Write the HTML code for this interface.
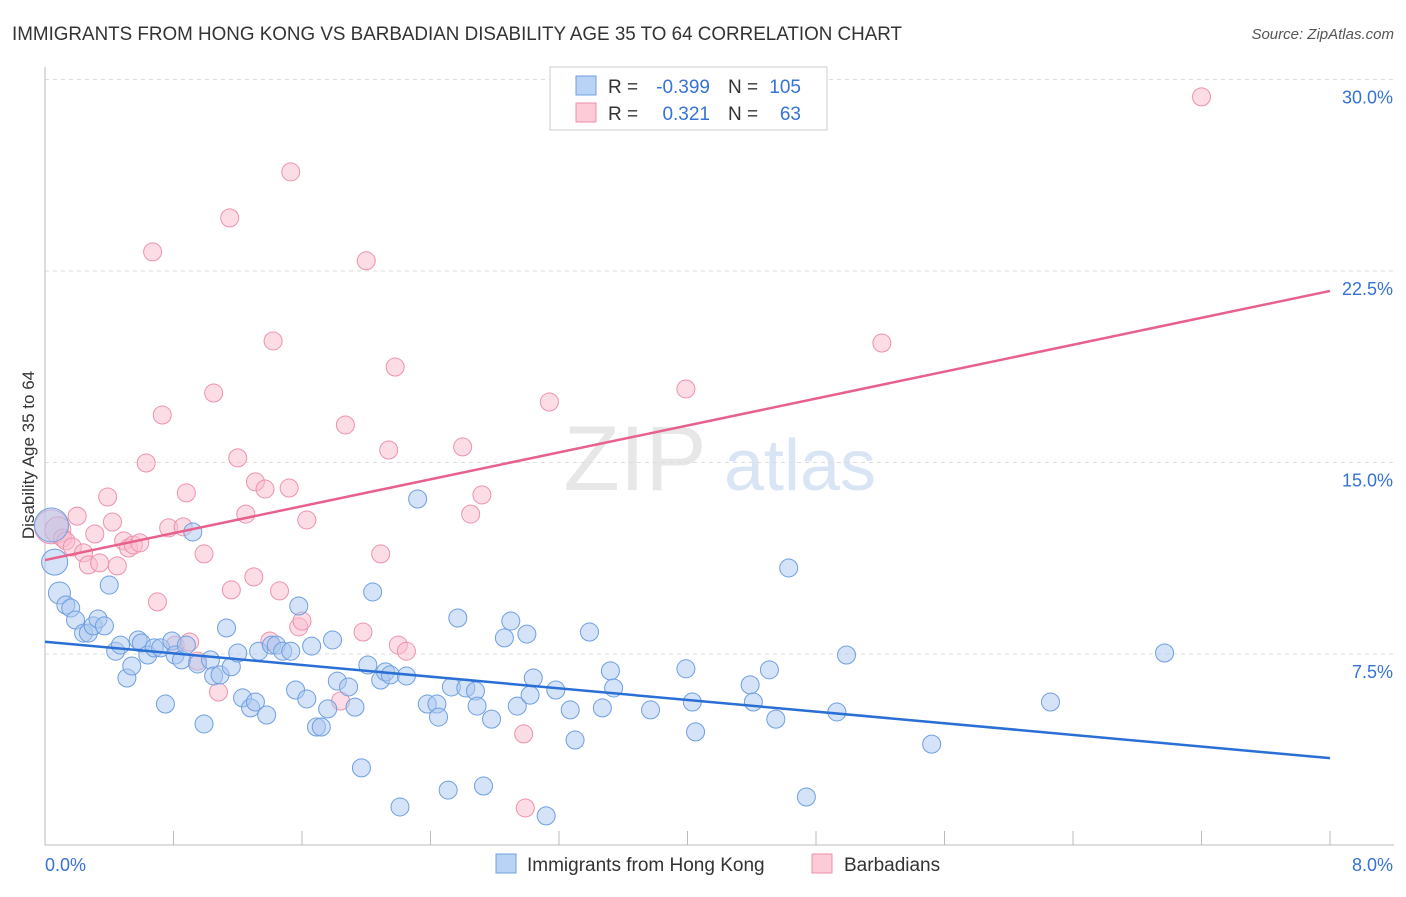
<!DOCTYPE html>
<html><head><meta charset="utf-8"><style>
body{margin:0;background:#fff;font-family:"Liberation Sans",sans-serif;}
svg text{font-family:"Liberation Sans",sans-serif;}
</style></head><body>
<svg id="chart" width="1406" height="892">
<text x="12" y="40" font-size="19" fill="#333" textLength="890" lengthAdjust="spacingAndGlyphs">IMMIGRANTS FROM HONG KONG VS BARBADIAN DISABILITY AGE 35 TO 64 CORRELATION CHART</text>
<text x="1394" y="39" font-size="15" fill="#555" text-anchor="end" font-style="italic">Source: ZipAtlas.com</text>
<text x="34" y="455" font-size="17" fill="#333" text-anchor="middle" transform="rotate(-90 34 455)">Disability Age 35 to 64</text>
<g><text x="635" y="490" font-size="92" fill="#ddd" text-anchor="middle" font-family="Liberation Serif" opacity="0.7">ZIP</text><text x="800" y="490" font-size="72" fill="#c9daf0" text-anchor="middle" opacity="0.7">atlas</text></g>
<g id="grid"></g><g id="axes"></g><g id="pts"></g><g id="lines"></g>
<g>
<rect x="550" y="67" width="277" height="63" fill="#fff" stroke="#ccc"/>
<rect x="576" y="76" width="20" height="19" fill="#b9d3f5" stroke="#6f9fe0"/>
<rect x="576" y="103" width="20" height="19" fill="#fbcbd8" stroke="#ee92ac"/>
<text x="608" y="93" font-size="19" fill="#333">R =</text>
<text x="710" y="93" font-size="19" fill="#3673d4" text-anchor="end">-0.399</text>
<text x="728" y="93" font-size="19" fill="#333">N =</text>
<text x="801" y="93" font-size="19" fill="#3673d4" text-anchor="end">105</text>
<text x="608" y="120" font-size="19" fill="#333">R =</text>
<text x="710" y="120" font-size="19" fill="#3673d4" text-anchor="end">0.321</text>
<text x="728" y="120" font-size="19" fill="#333">N =</text>
<text x="801" y="120" font-size="19" fill="#3673d4" text-anchor="end">63</text>
</g>
<g>
<rect x="496" y="854" width="20" height="19" fill="#b9d3f5" stroke="#6f9fe0"/>
<text x="527" y="871" font-size="19" fill="#333">Immigrants from Hong Kong</text>
<rect x="812" y="854" width="20" height="19" fill="#fbcbd8" stroke="#ee92ac"/>
<text x="844" y="871" font-size="19" fill="#333">Barbadians</text>
</g>
</svg>
<script>
const yTicks=[7.5,15,22.5,30];
const yTickLabels=["7.5%","15.0%","22.5%","30.0%"];
const xTicks=[0,0.8,1.6,2.4,3.2,4,4.8,5.6,6.4,7.2,8];
const blueX=[0.04,0.06,0.09,0.13,0.16,0.19,0.24,0.27,0.30,0.33,0.37,0.40,0.44,0.47,0.51,0.54,0.58,0.60,0.64,0.68,0.72,0.75,0.79,0.81,0.85,0.88,0.92,0.95,0.99,1.03,1.05,1.09,1.13,1.16,1.20,1.23,1.28,1.31,1.33,1.38,1.41,1.44,1.48,1.53,1.56,1.58,1.63,1.66,1.69,1.72,1.76,1.79,1.82,1.89,1.93,1.97,2.01,2.04,2.09,2.12,2.15,2.21,2.25,2.32,2.38,2.44,2.45,2.51,2.53,2.57,2.62,2.68,2.69,2.73,2.78,2.86,2.90,2.94,3.00,3.02,3.04,3.12,3.18,3.27,3.30,3.39,3.47,3.52,3.54,3.77,3.99,4.03,4.05,4.39,4.41,4.51,4.55,4.63,4.74,4.93,4.99,5.52,6.26,6.97];
const blueY=[12.55,11.10,9.89,9.42,9.30,8.83,8.32,8.32,8.60,8.87,8.60,10.20,7.61,7.85,6.56,7.03,8.05,7.93,7.46,7.74,7.74,5.54,8.01,7.46,7.27,7.85,12.28,7.11,4.76,7.27,6.64,6.68,8.52,7.00,7.54,5.78,5.39,5.62,7.61,5.11,7.85,7.85,7.61,7.61,6.09,9.38,5.74,7.81,4.64,4.64,5.35,8.05,6.44,6.21,5.42,3.04,7.07,9.93,6.48,6.80,6.68,1.51,6.64,13.57,5.54,5.54,5.03,2.17,6.21,8.91,6.17,6.05,5.46,2.33,4.95,8.13,8.79,5.46,8.28,5.89,6.56,1.16,6.09,5.31,4.13,8.36,5.39,6.84,6.17,5.31,6.92,5.62,4.45,6.29,5.62,6.88,4.95,10.87,1.90,5.23,7.46,3.97,5.62,7.54];
const pinkX=[0.04,0.08,0.11,0.13,0.17,0.20,0.24,0.27,0.31,0.34,0.39,0.42,0.45,0.49,0.52,0.55,0.59,0.63,0.67,0.70,0.73,0.77,0.81,0.86,0.88,0.90,0.95,0.99,1.05,1.08,1.15,1.16,1.20,1.25,1.30,1.31,1.37,1.40,1.42,1.46,1.52,1.53,1.58,1.60,1.63,1.84,1.87,1.98,2.00,2.09,2.14,2.18,2.20,2.25,2.60,2.65,2.72,2.98,2.99,3.14,3.99,5.21,7.20];
const pinkY=[12.48,12.36,12.04,11.93,11.69,12.90,11.46,10.99,12.20,11.07,13.65,12.67,10.95,11.93,11.65,11.77,11.85,14.98,23.25,9.54,16.86,12.44,7.85,12.48,13.81,7.97,7.22,11.42,17.72,6.01,24.58,10.01,15.18,12.98,10.52,14.24,13.96,8.01,19.76,9.97,14.00,26.38,8.56,8.79,12.75,5.66,16.47,8.36,22.90,11.42,15.49,18.74,7.85,7.61,15.61,12.98,13.73,4.37,1.47,17.37,17.88,19.68,29.32];
const blueTrend=[7.98,3.42];
const pinkTrend=[11.18,21.72];
const NS="http://www.w3.org/2000/svg";
const X=v=>45+v/8*1285, Y=v=>845.5-v/7.5*191.5;
function mk(p,t,a){const e=document.createElementNS(NS,t);for(const k in a)e.setAttribute(k,a[k]);p.appendChild(e);return e;}
const grid=document.getElementById('grid'),axes=document.getElementById('axes'),pts=document.getElementById('pts'),lines=document.getElementById('lines');
yTicks.forEach((t,i)=>{
 const l=mk(grid,'line',{x1:45,x2:1394,y1:Y(t),y2:Y(t),stroke:'#ddd','stroke-dasharray':'4 4'});
 
 
 const tx=mk(axes,'text',{x:1393,y:Y(t)+24,'font-size':18,fill:'#3673d4','text-anchor':'end'});
 tx.textContent=yTickLabels[i];
 
 
});
const ax=mk(axes,'line',{x1:45,x2:1394,y1:845,y2:845,stroke:'#bbb'});


const ay=mk(axes,'line',{x1:45,x2:45,y1:67,y2:845,stroke:'#bbb'});


xTicks.forEach(t=>{const l=mk(axes,'line',{x1:X(t),x2:X(t),y1:831,y2:845,stroke:'#bbb'});
 
 });
[[0,"0.0%","start",45],[8,"8.0%","end",1393]].forEach(d=>{const t=mk(axes,'text',{x:d[3],y:871,'font-size':18,fill:'#3673d4','text-anchor':d[2]});t.textContent=d[1];
 
 });
function dots(xs,ys,fill,stroke,name){xs.forEach((x,i)=>{const big=(x<0.1&&i<3)?(i==0?17:i==1?13:11):9;
 const c=mk(pts,'circle',{cx:X(x),cy:Y(ys[i]),r:big,fill:fill,stroke:stroke,'stroke-width':1,'fill-opacity':0.5});
 
 });}
dots(pinkX,pinkY,'#f9bccd','#ee92ac','barbadian-point');
dots(blueX,blueY,'#a9c8f0','#6f9fe0','hk-point');
const bl=mk(lines,'line',{x1:X(0),y1:Y(blueTrend[0]),x2:X(8),y2:Y(blueTrend[1]),stroke:'#2a6fd6','stroke-width':2.5});


const pl=mk(lines,'line',{x1:X(0),y1:Y(pinkTrend[0]),x2:X(8),y2:Y(pinkTrend[1]),stroke:'#e8608c','stroke-width':2.5});


</script>
</body></html>
